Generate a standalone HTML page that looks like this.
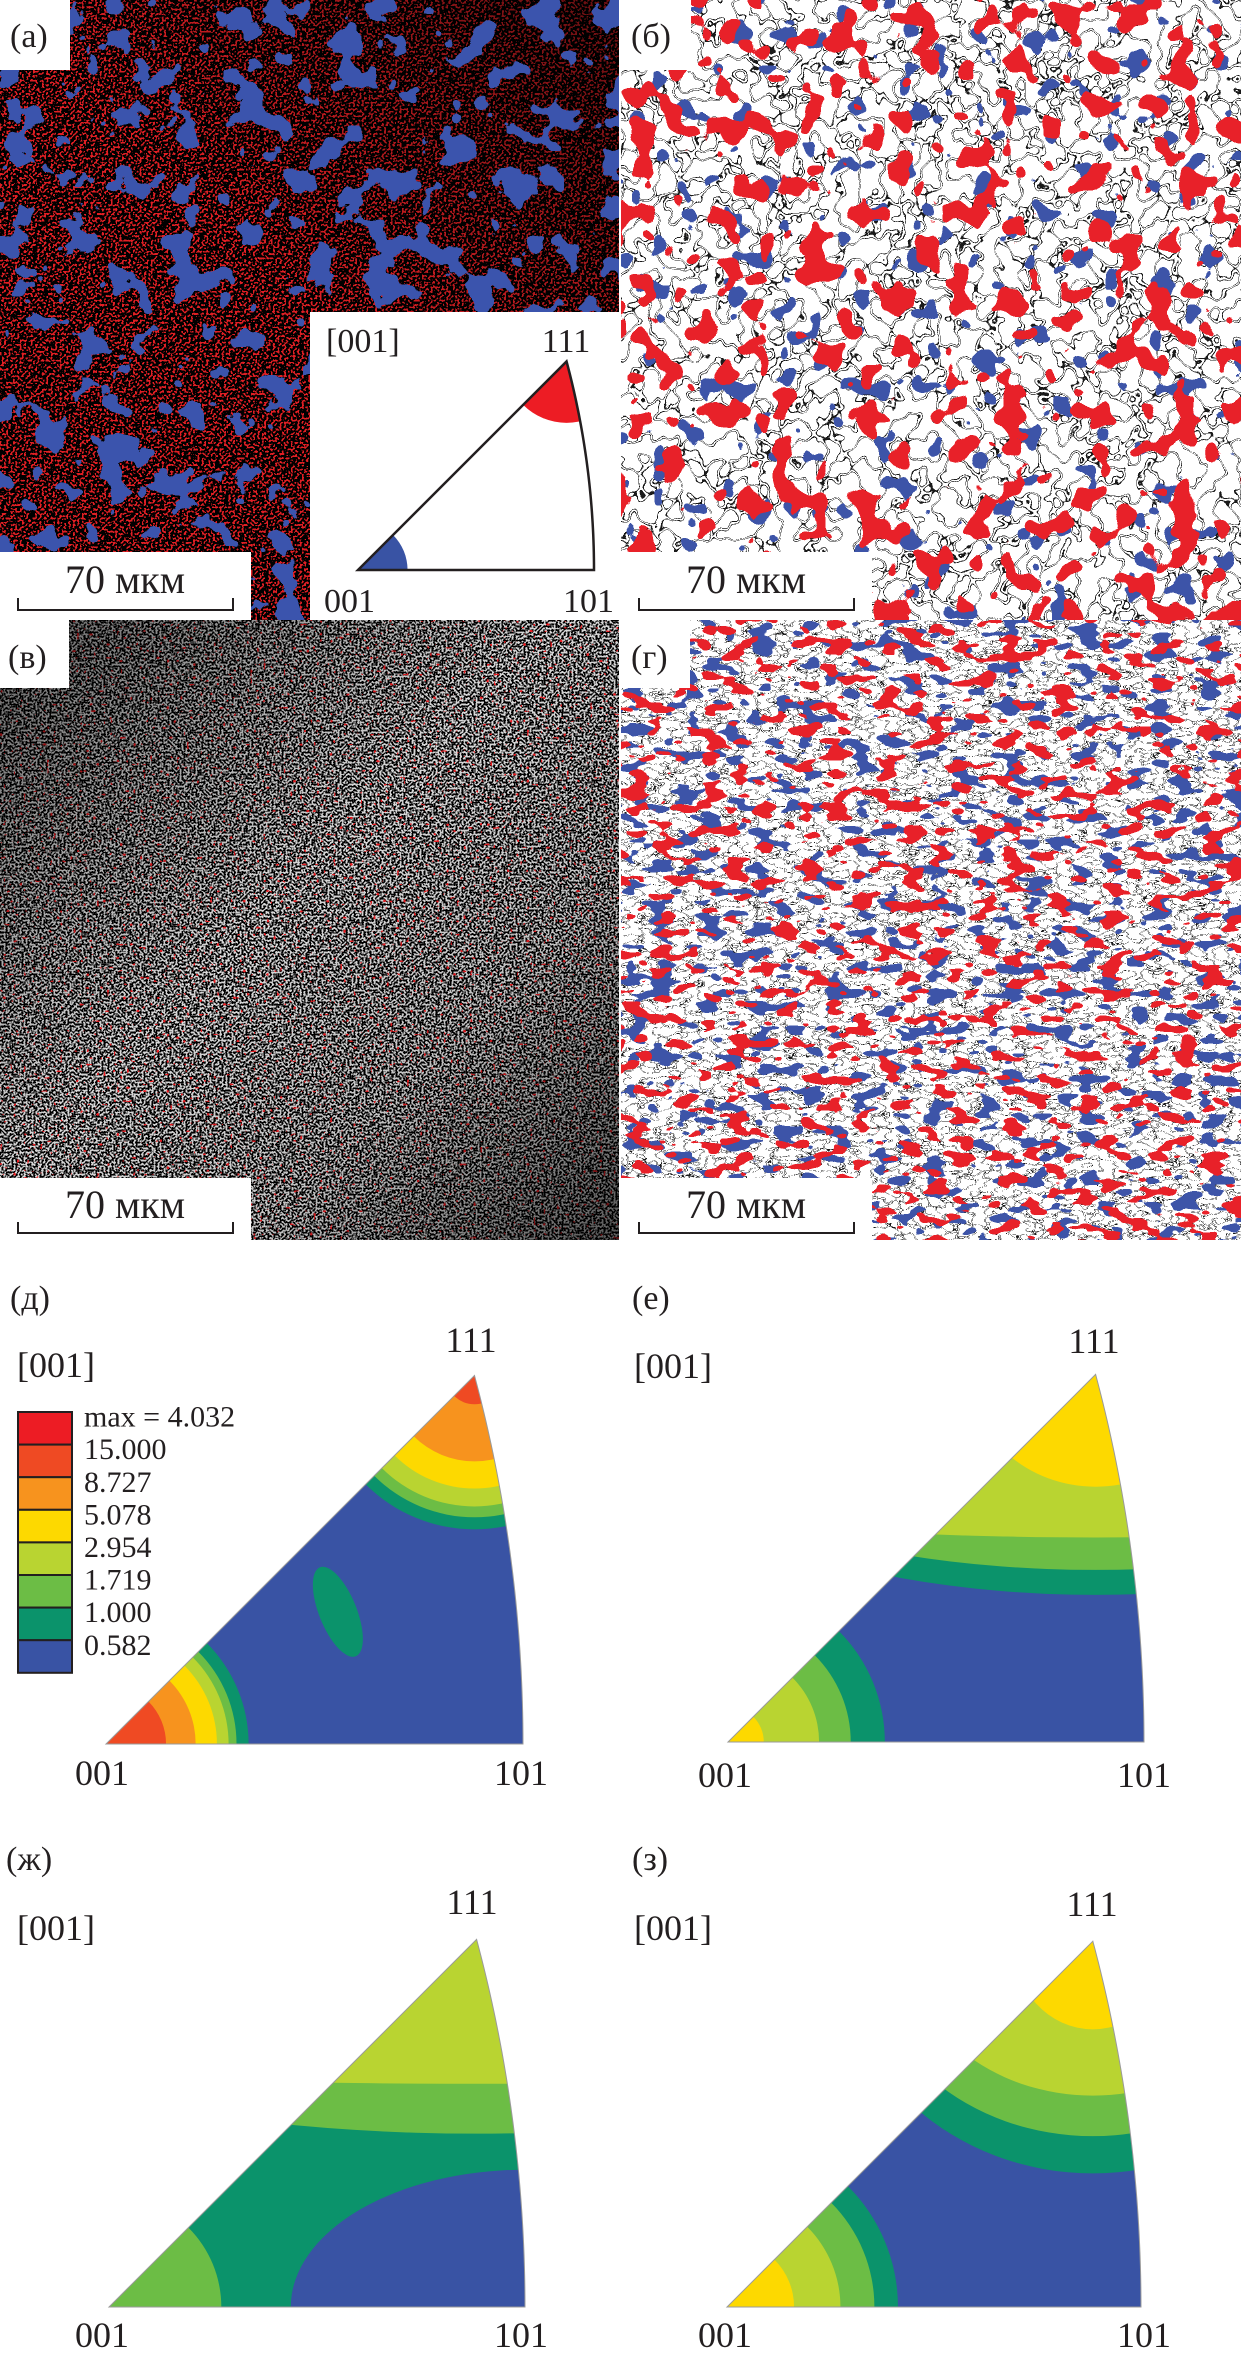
<!DOCTYPE html>
<html><head><meta charset="utf-8">
<style>
html,body{margin:0;padding:0;background:#fff;overflow:hidden;width:1241px;height:2359px;}
svg{display:block;}
text{font-family:"Liberation Serif","DejaVu Serif",serif;fill:#231f20;}
</style></head>
<body>
<svg id="fig" width="1241" height="2359" viewBox="0 0 1241 2359" xmlns="http://www.w3.org/2000/svg">
<defs>
  <filter id="fRedA" x="0" y="0" width="1" height="1" color-interpolation-filters="sRGB">
    <feTurbulence type="fractalNoise" baseFrequency="0.45" numOctaves="1" seed="2"/>
    <feColorMatrix type="matrix" values="0 0 0 0 0.88  0 0 0 0 0.12  0 0 0 0 0.14  1 0 0 0 0"/>
    <feComponentTransfer><feFuncA type="discrete" tableValues="0 0 0 0 0 0 0 0 0 0 0 1 1 1 1 1 1 1 1 1"/></feComponentTransfer>
  </filter>
  <filter id="fBlueA" x="0" y="0" width="1" height="1" color-interpolation-filters="sRGB">
    <feTurbulence type="fractalNoise" baseFrequency="0.03" numOctaves="3" seed="7"/>
    <feColorMatrix type="matrix" values="0 0 0 0 0.23  0 0 0 0 0.33  0 0 0 0 0.68  1 0 0 0 0"/>
    <feComponentTransfer><feFuncA type="discrete" tableValues="0 0 0 0 0 0 0 0 0 0 0 0 1 1 1 1 1 1 1 1"/></feComponentTransfer>
  </filter>
  <filter id="fWhiteV" x="0" y="0" width="1" height="1" color-interpolation-filters="sRGB">
    <feTurbulence type="fractalNoise" baseFrequency="0.5" numOctaves="1" seed="5"/>
    <feColorMatrix type="matrix" values="0 0 0 0 0.85  0 0 0 0 0.85  0 0 0 0 0.85  1 0 0 0 0"/>
    <feComponentTransfer><feFuncA type="discrete" tableValues="0 0 0 0 0 0 0 0 0 0 0.8 1 1 1 1 1 1 1 1 1"/></feComponentTransfer>
  </filter>
  <filter id="fRedV" x="0" y="0" width="1" height="1" color-interpolation-filters="sRGB">
    <feTurbulence type="fractalNoise" baseFrequency="0.3" numOctaves="1" seed="11"/>
    <feColorMatrix type="matrix" values="0 0 0 0 0.9  0 0 0 0 0.12  0 0 0 0 0.14  1 0 0 0 0"/>
    <feComponentTransfer><feFuncA type="discrete" tableValues="0 0 0 0 0 0 0 0 0 0 0 0 0 0 1 1 1 1 1 1"/></feComponentTransfer>
  </filter>
  <filter id="fEdge1" x="0" y="0" width="1" height="1" color-interpolation-filters="sRGB">
    <feTurbulence type="fractalNoise" baseFrequency="0.05" numOctaves="2" seed="9"/>
    <feColorMatrix type="matrix" values="0 0 0 0 0.1  0 0 0 0 0.1  0 0 0 0 0.1  1 0 0 0 0"/>
    <feComponentTransfer><feFuncA type="discrete" tableValues="0 0 0 0 0 0 0 0 0 0 0 0 0 0 0 0 0 0 0 0 0 0 0 1 0 0 1 0 0 0 0 0 0 0 0 0 0 0 0 0 0 0 0 0 0 0 0 0 0 0"/></feComponentTransfer>
  </filter>
  <filter id="fRedB" x="0" y="0" width="1" height="1" color-interpolation-filters="sRGB">
    <feTurbulence type="fractalNoise" baseFrequency="0.035" numOctaves="2" seed="4"/>
    <feColorMatrix type="matrix" values="0 0 0 0 0.91  0 0 0 0 0.13  0 0 0 0 0.16  1 0 0 0 0"/>
    <feComponentTransfer><feFuncA type="discrete" tableValues="0 0 0 0 0 0 0 0 0 0 0 0 1 1 1 1 1 1 1 1"/></feComponentTransfer>
  </filter>
  <filter id="fBlueB" x="0" y="0" width="1" height="1" color-interpolation-filters="sRGB">
    <feTurbulence type="fractalNoise" baseFrequency="0.04" numOctaves="2" seed="13"/>
    <feColorMatrix type="matrix" values="0 0 0 0 0.24  0 0 0 0 0.33  0 0 0 0 0.66  1 0 0 0 0"/>
    <feComponentTransfer><feFuncA type="discrete" tableValues="0 0 0 0 0 0 0 0 0 0 0 0 0 1 1 1 1 1 1 1"/></feComponentTransfer>
  </filter>
  <filter id="fRedG" x="0" y="0" width="1" height="1" color-interpolation-filters="sRGB">
    <feTurbulence type="fractalNoise" baseFrequency="0.04 0.08" numOctaves="2" seed="21"/>
    <feColorMatrix type="matrix" values="0 0 0 0 0.91  0 0 0 0 0.13  0 0 0 0 0.16  1 0 0 0 0"/>
    <feComponentTransfer><feFuncA type="discrete" tableValues="0 0 0 0 0 0 0 0 0 0 0 0 1 1 1 1 1 1 1 1"/></feComponentTransfer>
  </filter>
  <filter id="fBlueG" x="0" y="0" width="1" height="1" color-interpolation-filters="sRGB">
    <feTurbulence type="fractalNoise" baseFrequency="0.04 0.08" numOctaves="2" seed="33"/>
    <feColorMatrix type="matrix" values="0 0 0 0 0.24  0 0 0 0 0.33  0 0 0 0 0.66  1 0 0 0 0"/>
    <feComponentTransfer><feFuncA type="discrete" tableValues="0 0 0 0 0 0 0 0 0 0 0 0 1 1 1 1 1 1 1 1"/></feComponentTransfer>
  </filter>
  <filter id="fEdge2" x="0" y="0" width="1" height="1" color-interpolation-filters="sRGB">
    <feTurbulence type="fractalNoise" baseFrequency="0.07 0.14" numOctaves="2" seed="17"/>
    <feColorMatrix type="matrix" values="0 0 0 0 0.1  0 0 0 0 0.1  0 0 0 0 0.1  1 0 0 0 0"/>
    <feComponentTransfer><feFuncA type="discrete" tableValues="0 0 0 0 0 0 0 0 0 0 0 0 0 0 0 0 0 0 0 0 0 0 0 1 0 0 1 0 0 0 0 0 0 0 0 0 0 0 0 0 0 0 0 0 0 0 0 0 0 0"/></feComponentTransfer>
  </filter>
  <linearGradient id="gDarkV" x1="0" y1="0" x2="1" y2="1">
    <stop offset="0" stop-color="#000" stop-opacity="0.55"/>
    <stop offset="0.45" stop-color="#000" stop-opacity="0"/>
    <stop offset="0.7" stop-color="#000" stop-opacity="0.1"/>
    <stop offset="1" stop-color="#000" stop-opacity="0.6"/>
  </linearGradient>
  <linearGradient id="gDarkA" x1="0" y1="1" x2="1" y2="0">
    <stop offset="0.5" stop-color="#000" stop-opacity="0"/>
    <stop offset="1" stop-color="#000" stop-opacity="0.55"/>
  </linearGradient>
</defs>

<g>
  <rect x="0" y="0" width="619" height="620" fill="#000"/>
  <rect x="0" y="0" width="619" height="620" fill="#fff" filter="url(#fRedA)"/>
  <rect x="0" y="0" width="619" height="620" fill="url(#gDarkA)"/>
  <rect x="0" y="0" width="619" height="620" fill="#fff" filter="url(#fBlueA)"/>
</g>
<g>
  <rect x="621" y="0" width="620" height="620" fill="#fff"/>
  <rect x="621" y="0" width="620" height="620" fill="#fff" filter="url(#fEdge1)"/>
  <rect x="621" y="0" width="620" height="620" fill="#fff" filter="url(#fBlueB)"/>
  <rect x="621" y="0" width="620" height="620" fill="#fff" filter="url(#fRedB)"/>
</g>
<g>
  <rect x="0" y="620" width="619" height="620" fill="#000"/>
  <rect x="0" y="620" width="619" height="620" fill="#fff" filter="url(#fWhiteV)"/>
  <rect x="0" y="620" width="619" height="620" fill="#fff" filter="url(#fRedV)"/>
  <rect x="0" y="620" width="619" height="620" fill="url(#gDarkV)"/>
</g>
<g>
  <rect x="621" y="620" width="620" height="620" fill="#fff"/>
  <rect x="621" y="620" width="620" height="620" fill="#fff" filter="url(#fEdge2)"/>
  <rect x="621" y="620" width="620" height="620" fill="#fff" filter="url(#fBlueG)"/>
  <rect x="621" y="620" width="620" height="620" fill="#fff" filter="url(#fRedG)"/>
</g>

<g><rect x="0" y="0" width="70" height="70" fill="#fff"/><text x="10" y="47" font-size="34">(а)</text></g>
<g><rect x="621" y="0" width="70" height="70" fill="#fff"/><text x="631" y="47" font-size="34">(б)</text></g>
<g><rect x="0" y="620" width="69" height="68" fill="#fff"/><text x="8" y="668" font-size="34">(в)</text></g>
<g><rect x="621" y="620" width="69" height="68" fill="#fff"/><text x="631" y="668" font-size="34">(г)</text></g>

<g>
  <rect x="0" y="552" width="251" height="68" fill="#fff"/>
  <text x="125" y="593" font-size="40" text-anchor="middle">70 мкм</text>
  <path d="M18 598 V610 H233 V598" fill="none" stroke="#231f20" stroke-width="2"/>
</g>
<g>
  <rect x="621" y="552" width="251" height="68" fill="#fff"/>
  <text x="746" y="593" font-size="40" text-anchor="middle">70 мкм</text>
  <path d="M639 598 V610 H854 V598" fill="none" stroke="#231f20" stroke-width="2"/>
</g>
<g>
  <rect x="0" y="1178" width="251" height="62" fill="#fff"/>
  <text x="125" y="1218" font-size="40" text-anchor="middle">70 мкм</text>
  <path d="M18 1222 V1233 H233 V1222" fill="none" stroke="#231f20" stroke-width="2"/>
</g>
<g>
  <rect x="621" y="1178" width="251" height="62" fill="#fff"/>
  <text x="746" y="1218" font-size="40" text-anchor="middle">70 мкм</text>
  <path d="M639 1222 V1233 H854 V1222" fill="none" stroke="#231f20" stroke-width="2"/>
</g>

<g>
  <rect x="310" y="312" width="309" height="308" fill="#fff"/>
  <text x="326" y="352" font-size="34">[001]</text>
  <text x="566" y="352" font-size="34" text-anchor="middle">111</text>
  <text x="324" y="612" font-size="34">001</text>
  <text x="563" y="612" font-size="34">101</text>
  <g id="ipf-inset"></g>
</g>

<text x="10" y="1309" font-size="34">(д)</text>
<text x="632" y="1309" font-size="34">(е)</text>
<text x="6" y="1870" font-size="34">(ж)</text>
<text x="632" y="1870" font-size="34">(з)</text>

<g>
  <text x="17" y="1377" font-size="36">[001]</text>
  <text x="471" y="1352" font-size="36" text-anchor="middle">111</text>
  <text x="75" y="1785" font-size="36">001</text>
  <text x="494" y="1785" font-size="36">101</text>
</g>
<g>
  <text x="634" y="1378" font-size="36">[001]</text>
  <text x="1094" y="1353" font-size="36" text-anchor="middle">111</text>
  <text x="698" y="1787" font-size="36">001</text>
  <text x="1117" y="1787" font-size="36">101</text>
</g>
<g>
  <text x="17" y="1940" font-size="36">[001]</text>
  <text x="472" y="1914" font-size="36" text-anchor="middle">111</text>
  <text x="75" y="2347" font-size="36">001</text>
  <text x="494" y="2347" font-size="36">101</text>
</g>
<g>
  <text x="634" y="1940" font-size="36">[001]</text>
  <text x="1092" y="1916" font-size="36" text-anchor="middle">111</text>
  <text x="698" y="2347" font-size="36">001</text>
  <text x="1117" y="2347" font-size="36">101</text>
</g>

<g id="ipf-d"></g>
<g id="ipf-e"></g>
<g id="ipf-zh"></g>
<g id="ipf-z"></g>
<g id="legend"></g>
</svg>

<script>
const NS = 'http://www.w3.org/2000/svg';
const C_RED = '#ed1c24', C_ORR = '#ef4a23', C_ORG = '#f7931e', C_YEL = '#fdd900',
      C_LGR = '#b9d431', C_GRN = '#6cbd45', C_TEA = '#0b936b', C_BLU = '#3953a4';

const legendLabels = ['max = 4.032','15.000','8.727','5.078','2.954','1.719','1.000','0.582'];
const legendColors = [C_RED, C_ORR, C_ORG, C_YEL, C_LGR, C_GRN, C_TEA, C_BLU];

const insetCornerR = [0.21];
const insetCornerC = [C_BLU];
const insetTipRy = [0.26];
const insetTipRx = [0.26];
const insetTipC = [C_RED];

const dCornerR = [0.342, 0.313, 0.294, 0.266, 0.215, 0.144];
const dCornerC = [C_TEA, C_GRN, C_LGR, C_YEL, C_ORG, C_ORR];
const dTipRy = [0.369, 0.340, 0.314, 0.271, 0.206, 0.069];
const dTipRx = [0.369, 0.340, 0.314, 0.271, 0.206, 0.069];
const dTipC = [C_TEA, C_GRN, C_LGR, C_YEL, C_ORG, C_ORR];
const dBlob = [0.556, 0.317, 0.045, 0.115];

const eCornerR = [0.377, 0.295, 0.219, 0.086];
const eCornerC = [C_TEA, C_GRN, C_LGR, C_YEL];
const eTipRy = [0.530, 0.470, 0.392, 0.270];
const eTipRx = [1.22, 1.2, 2.0, 0.30];
const eTipC = [C_TEA, C_GRN, C_LGR, C_YEL];

const zhCornerR = [0.27];
const zhCornerC = [C_GRN];
const zhTipRy = [0.467, 0.347];
const zhTipRx = [1.5, 3.0];
const zhTipC = [C_GRN, C_LGR];
const zhLow = [0.563, 0.33];

const zCornerR = [0.413, 0.356, 0.274, 0.162];
const zCornerC = [C_TEA, C_GRN, C_LGR, C_YEL];
const zTipRy = [0.561, 0.471, 0.373, 0.213];
const zTipRx = [0.615, 0.55, 0.45, 0.194];
const zTipC = [C_TEA, C_GRN, C_LGR, C_YEL];

const K = 0.41421356;
function arcPt(s){ const d = Math.sqrt(2 + s*s) + 1; return [1/d/K, s/d/K]; }
const TIP = arcPt(1);

function makeAxis(x0, y0, W){
  return { x: u => x0 + u*W, y: v => y0 - v*W, s: r => r*W };
}
function triPath(ax){
  let d = 'M' + ax.x(0) + ' ' + ax.y(0) + ' L' + ax.x(1) + ' ' + ax.y(0);
  for (let i = 1; i <= 40; i++){ const p = arcPt(i/40); d += ' L' + ax.x(p[0]).toFixed(2) + ' ' + ax.y(p[1]).toFixed(2); }
  return d + ' Z';
}
function el(tag, attrs, parent){
  const e = document.createElementNS(NS, tag);
  for (const k in attrs) e.setAttribute(k, attrs[k]);
  parent.appendChild(e); return e;
}

function drawIPF(gid, x0, y0, W, base, cornerR, cornerC, tipRx, tipRy, tipC, extra, outline){
  const g = document.getElementById(gid);
  const ax = makeAxis(x0, y0, W);
  const cp = el('clipPath', {id: 'clip-' + gid}, g);
  el('path', {d: triPath(ax)}, cp);
  const inner = el('g', {'clip-path': 'url(#clip-' + gid + ')'}, g);
  const bg = el('path', {d: triPath(ax), fill: base}, inner);
  
  
  if (extra) extra(inner, ax);
  cornerR.forEach((r, i) => {
    const c = el('circle', {cx: ax.x(0), cy: ax.y(0), r: ax.s(r), fill: cornerC[i]}, inner);
    
    
  });
  tipRy.forEach((ry, i) => {
    const c = el('ellipse', {cx: ax.x(TIP[0]), cy: ax.y(TIP[1]), rx: ax.s(tipRx[i]), ry: ax.s(ry), fill: tipC[i]}, inner);
    
    
  });
  const o = el('path', {d: triPath(ax), fill: 'none', stroke: outline ? '#231f20' : '#9a9a9a', 'stroke-width': outline ? 2.5 : 1}, g);
  
  
}

drawIPF('ipf-inset', 358, 570, 236, '#ffffff', insetCornerR, insetCornerC, insetTipRx, insetTipRy, insetTipC, null, true);
drawIPF('ipf-d', 106, 1744, 417, C_BLU, dCornerR, dCornerC, dTipRx, dTipRy, dTipC, (g, ax) => {
  const b = el('ellipse', {cx: ax.x(dBlob[0]), cy: ax.y(dBlob[1]), rx: ax.s(dBlob[2]), ry: ax.s(dBlob[3]), fill: C_TEA,
    transform: 'rotate(-22 ' + ax.x(dBlob[0]) + ' ' + ax.y(dBlob[1]) + ')'}, g);
  
  
}, false);
drawIPF('ipf-e', 728, 1742, 416, C_BLU, eCornerR, eCornerC, eTipRx, eTipRy, eTipC, null, false);
drawIPF('ipf-zh', 109, 2307, 416, C_TEA, zhCornerR, zhCornerC, zhTipRx, zhTipRy, zhTipC, (g, ax) => {
  const b = el('ellipse', {cx: ax.x(1), cy: ax.y(0), rx: ax.s(zhLow[0]), ry: ax.s(zhLow[1]), fill: C_BLU}, g);
  
  
}, false);
drawIPF('ipf-z', 727, 2307, 414, C_BLU, zCornerR, zCornerC, zTipRx, zTipRy, zTipC, null, false);

(function(){
  const g = document.getElementById('legend');
  const top = 1412, h = 32.6, x = 18, w = 54;
  legendColors.forEach((c, i) => {
    const r = el('rect', {x: x, y: top + i*h, width: w, height: h, fill: c, stroke: '#231f20', 'stroke-width': 2}, g);
    
    
    const t = el('text', {x: 84, y: top + 7 + i*h + 0.6*h - 12, 'font-size': 30}, g);
    t.textContent = legendLabels[i];
    
    
  });
})();
</script>
</body></html>
